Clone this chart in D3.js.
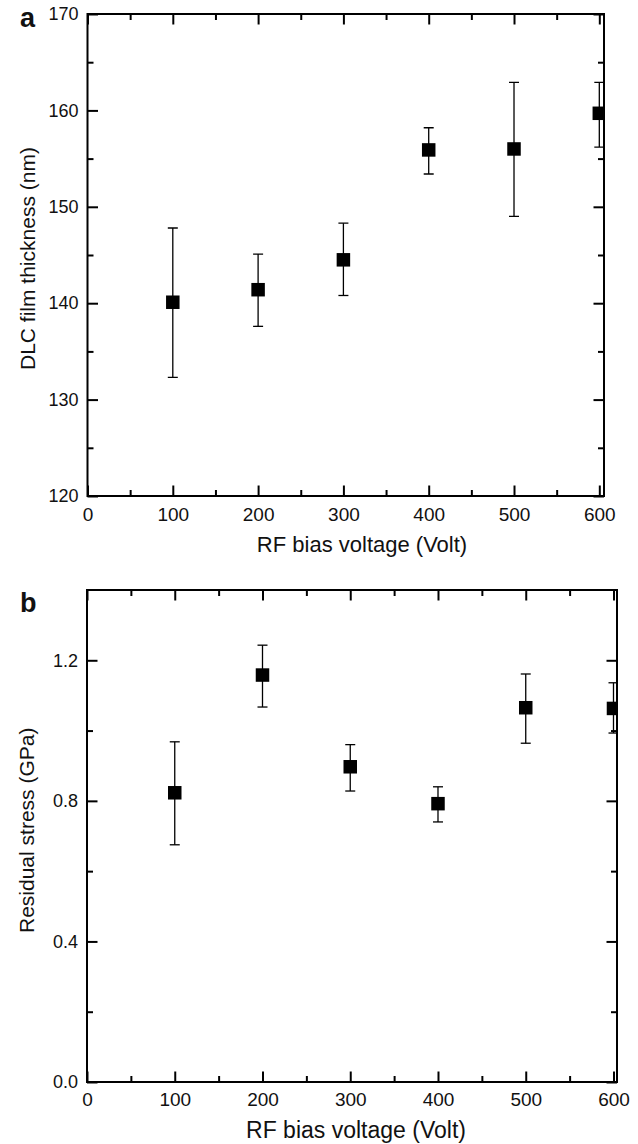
<!DOCTYPE html>
<html>
<head>
<meta charset="utf-8">
<script src="https://cdn.jsdelivr.net/npm/d3@7"></script>
<style>
  html, body { margin: 0; padding: 0; background: #fff; }
  svg { display: block; }
  text { font-family: "Liberation Sans", Arial, Helvetica, sans-serif; fill: #111; }
</style>
</head>
<body>
<script>
// ---- Data ----
const biasVoltage = [100, 200, 300, 400, 500, 600];
const thicknessMean  = [140.1, 141.4, 144.5, 155.9, 156.0, 159.7];
const thicknessUpper = [147.8, 145.1, 148.3, 158.2, 162.9, 162.9];
const thicknessLower = [132.3, 137.6, 140.8, 153.4, 149.0, 156.2];
const stressMean  = [0.823, 1.158, 0.897, 0.792, 1.065, 1.063];
const stressUpper = [0.968, 1.243, 0.960, 0.840, 1.161, 1.136];
const stressLower = [0.675, 1.067, 0.828, 0.740, 0.964, 0.993];
const xMajorTicks = [0, 100, 200, 300, 400, 500, 600];
const xMinorTicks = [50, 150, 250, 350, 450, 550];
const thicknessMajorTicks = [120, 130, 140, 150, 160, 170];
const thicknessMinorTicks = [125, 135, 145, 155, 165];
const stressMajorTicks = [0.0, 0.4, 0.8, 1.2];
const stressMinorTicks = [0.2, 0.6, 1.0];

const W = 638, H = 1144;
const svg = d3.select("body").append("svg").attr("width", W).attr("height", H);

function panel(cfg) {
  const x = d3.scaleLinear().domain(cfg.xDomain).range([cfg.left, cfg.right]);
  const y = d3.scaleLinear().domain(cfg.yDomain).range([cfg.bottom, cfg.top]);
  const g = svg.append("g");
  const clipId = "clip-" + cfg.name;
  svg.append("clipPath").attr("id", clipId).append("rect")
    .attr("x", cfg.left).attr("y", cfg.top)
    .attr("width", cfg.right - cfg.left).attr("height", cfg.bottom - cfg.top);

  const major = 10.5, minor = 6;
  function styleAxis(sel) {
    sel.select(".domain").remove();
    sel.selectAll(".tick line").attr("stroke", "#000").attr("stroke-width", 2);
  }
  // bottom
  g.append("g").attr("transform", `translate(0,${cfg.bottom})`)
    .call(d3.axisBottom(x).tickValues(xMajorTicks).tickSize(-major).tickPadding(cfg.xPad).tickFormat(d3.format("d")))
    .call(styleAxis)
    .call(s => s.selectAll(".tick text").attr("font-size", 19).attr("fill", "#111"));
  g.append("g").attr("transform", `translate(0,${cfg.bottom})`)
    .call(d3.axisBottom(x).tickValues(xMinorTicks).tickSize(-minor).tickFormat(""))
    .call(styleAxis);
  // top
  g.append("g").attr("transform", `translate(0,${cfg.top})`)
    .call(d3.axisTop(x).tickValues(xMajorTicks).tickSize(-major).tickFormat(""))
    .call(styleAxis);
  g.append("g").attr("transform", `translate(0,${cfg.top})`)
    .call(d3.axisTop(x).tickValues(xMinorTicks).tickSize(-minor).tickFormat(""))
    .call(styleAxis);
  // left
  g.append("g").attr("transform", `translate(${cfg.left},0)`)
    .call(d3.axisLeft(y).tickValues(cfg.yMajor).tickSize(-major).tickPadding(9).tickFormat(cfg.yFormat))
    .call(styleAxis)
    .call(s => s.selectAll(".tick text").attr("font-size", 18).attr("fill", "#111"));
  g.append("g").attr("transform", `translate(${cfg.left},0)`)
    .call(d3.axisLeft(y).tickValues(cfg.yMinor).tickSize(-minor).tickFormat(""))
    .call(styleAxis);
  // right
  g.append("g").attr("transform", `translate(${cfg.right},0)`)
    .call(d3.axisRight(y).tickValues(cfg.yMajor).tickSize(-major).tickFormat(""))
    .call(styleAxis);
  g.append("g").attr("transform", `translate(${cfg.right},0)`)
    .call(d3.axisRight(y).tickValues(cfg.yMinor).tickSize(-minor).tickFormat(""))
    .call(styleAxis);

  // frame
  g.append("rect").attr("x", cfg.left).attr("y", cfg.top)
    .attr("width", cfg.right - cfg.left).attr("height", cfg.bottom - cfg.top)
    .attr("fill", "none").attr("stroke", "#000").attr("stroke-width", 2);

  // data
  const pts = biasVoltage.map((v, i) => ({ v, m: cfg.mean[i], hi: cfg.upper[i], lo: cfg.lower[i] }));
  const dg = g.append("g").attr("clip-path", `url(#${clipId})`);
  const capW = 5;
  const eb = dg.selectAll("g.eb").data(pts).join("g").attr("class", "eb")
    .attr("stroke", "#000").attr("stroke-width", 1.3);
  eb.append("line").attr("x1", d => x(d.v)).attr("x2", d => x(d.v))
    .attr("y1", d => y(d.hi)).attr("y2", d => y(d.lo));
  eb.append("line").attr("x1", d => x(d.v) - capW).attr("x2", d => x(d.v) + capW)
    .attr("y1", d => y(d.hi)).attr("y2", d => y(d.hi));
  eb.append("line").attr("x1", d => x(d.v) - capW).attr("x2", d => x(d.v) + capW)
    .attr("y1", d => y(d.lo)).attr("y2", d => y(d.lo));
  const ms = 13.5;
  dg.selectAll("rect.pt").data(pts).join("rect").attr("class", "pt")
    .attr("x", d => x(d.v) - ms / 2).attr("y", d => y(d.m) - ms / 2)
    .attr("width", ms).attr("height", ms).attr("fill", "#000");

  // titles
  g.append("text").attr("x", cfg.xTitleX).attr("y", cfg.xTitleY)
    .attr("text-anchor", "middle").attr("font-size", cfg.xTitleSize).text("RF bias voltage (Volt)");
  g.append("text").attr("transform", `translate(${cfg.yTitleX},${cfg.yTitleY}) rotate(-90)`)
    .attr("text-anchor", "start").attr("font-size", 21).text(cfg.yTitle);
  g.append("text").attr("x", 20).attr("y", cfg.letterY)
    .attr("font-size", 27).attr("font-weight", "bold").text(cfg.letter);
}

panel({
  name: "a", letter: "a", letterY: 27,
  left: 87.5, right: 604, top: 14, bottom: 496,
  xDomain: [0, 605.5], yDomain: [120, 170],
  yMajor: thicknessMajorTicks, yMinor: thicknessMinorTicks, yFormat: d3.format("d"),
  mean: thicknessMean, upper: thicknessUpper, lower: thicknessLower,
  xPad: 12, xTitleX: 362, xTitleY: 552, xTitleSize: 22,
  yTitle: "DLC film thickness (nm)", yTitleX: 35, yTitleY: 370
});

panel({
  name: "b", letter: "b", letterY: 612,
  left: 87, right: 617, top: 590, bottom: 1082,
  xDomain: [0, 604], yDomain: [0, 1.4],
  yMajor: stressMajorTicks, yMinor: stressMinorTicks, yFormat: d3.format(".1f"),
  mean: stressMean, upper: stressUpper, lower: stressLower,
  xPad: 11, xTitleX: 356, xTitleY: 1138, xTitleSize: 23,
  yTitle: "Residual stress (GPa)", yTitleX: 33.5, yTitleY: 933
});
</script>
</body>
</html>
